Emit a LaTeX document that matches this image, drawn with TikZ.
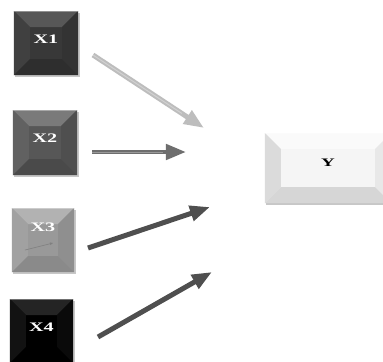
\documentclass[tikz,border=0pt]{standalone}
\usepackage{fontspec}
\setmainfont{Liberation Serif}
\usetikzlibrary{arrows.meta,calc,shadows}

\definecolor{arrlight}{HTML}{BDBDBD}
\definecolor{arrmid}{HTML}{6E6E6E}
\definecolor{arrdark}{HTML}{4F4F4F}

\tikzset{
  % beveled tile: base fill plus four sloped edge panels
  bevel/.style n args={6}{
    fill=#1, draw=none, inner sep=0pt, text=#6,
    drop shadow={shadow xshift=1.5bp, shadow yshift=-2bp, fill=black, opacity=.22},
    path picture={
      \fill[#2] (path picture bounding box.north west) -- (path picture bounding box.north east)
        -- ([shift={(-16,16)}]path picture bounding box.north east)
        -- ([shift={(16,16)}]path picture bounding box.north west) -- cycle;
      \fill[#3] (path picture bounding box.north west) -- ([shift={(16,16)}]path picture bounding box.north west)
        -- ([shift={(16,-16)}]path picture bounding box.south west)
        -- (path picture bounding box.south west) -- cycle;
      \fill[#4] (path picture bounding box.north east) -- ([shift={(-16,16)}]path picture bounding box.north east)
        -- ([shift={(-16,-16)}]path picture bounding box.south east)
        -- (path picture bounding box.south east) -- cycle;
      \fill[#5] (path picture bounding box.south west) -- ([shift={(16,-16)}]path picture bounding box.south west)
        -- ([shift={(-16,-16)}]path picture bounding box.south east)
        -- (path picture bounding box.south east) -- cycle;
      \draw[white, opacity=.35, line width=1bp] (path picture bounding box.north west) -- (path picture bounding box.north east);
    }},
  xlabel/.style={font=\fontsize{13bp}{15bp}\selectfont\bfseries},
  arrowhead/.style={-{Triangle[length=20bp,width=15bp]}},
  arrshaft/.style={line width=5bp, arrowhead},
  shine/.style={line width=1bp, white, opacity=.3},
}

\newcommand\tilelabel[2]{\smash{\raisebox{#1}{\scalebox{1.55}[1]{#2}}}}

\begin{document}
\begin{tikzpicture}[x=1bp,y=-1bp]
  \useasboundingbox (0,0) rectangle (383,362);
  \fill[white] (0,0) rectangle (383,362);

  % input tiles
  \node[bevel={black!78}{black!66}{black!75}{black!80}{black!82}{white}, xlabel,
        minimum width=64bp, minimum height=64bp] (X1) at (46,43) {\tilelabel{0bp}{X1}};
  \node[bevel={black!66}{black!52}{black!62}{black!69}{black!71}{white}, xlabel,
        minimum width=64bp, minimum height=65bp] (X2) at (45,142.5) {\tilelabel{0bp}{X2}};
  \node[bevel={black!40}{black!30}{black!37}{black!44}{black!46}{white}, xlabel,
        minimum width=62bp, minimum height=64bp] (X3) at (43,240) {\tilelabel{9bp}{X3}};
  \node[bevel={black}{black!86}{black!93}{black!96}{black}{white}, xlabel,
        minimum width=63bp, minimum height=64bp] (X4) at (41.5,331) {\tilelabel{0bp}{X4}};

  % output tile
  \node[bevel={black!4}{black!2}{black!14}{black!9}{black!16}{black},
        font=\fontsize{11.5bp}{13bp}\selectfont\bfseries,
        minimum width=126bp, minimum height=70bp] (Y) at (328,168)
        {\smash{\raisebox{2bp}{\scalebox{1.65}[1]{Y}}}};

  % small mark inside X3
  \coordinate (m3s) at (25,250);
  \coordinate (m3e) at (53,243);
  \draw[black!50, line width=.6bp, -{Triangle[length=3bp,width=2.5bp]}] (m3s) -- (m3e);

  % arrow end points
  \coordinate (a1s) at (93,55);   \coordinate (a1e) at (204,128);
  \coordinate (a2s) at (92,152);  \coordinate (a2e) at (186,152);
  \coordinate (a3s) at (88,248);  \coordinate (a3e) at (210,207);
  \coordinate (a4s) at (98,337);  \coordinate (a4e) at (212,272);

  \draw[arrshaft, arrlight] (a1s) -- (a1e);
  \draw[shine] (a1s) -- ($(a1s)!0.8!(a1e)$);
  \draw[arrshaft, arrmid, line width=4.5bp] (a2s) -- (a2e);
  \draw[shine] (a2s) -- ($(a2s)!0.75!(a2e)$);
  \draw[arrshaft, arrdark] (a3s) -- (a3e);
  \draw[arrshaft, arrdark] (a4s) -- (a4e);
\end{tikzpicture}
\end{document}
